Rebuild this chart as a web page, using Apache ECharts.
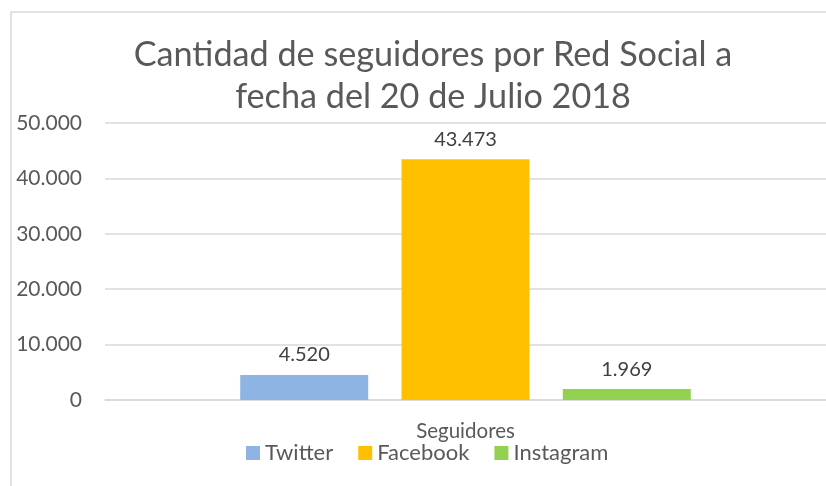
<!DOCTYPE html>
<html>
<head>
<meta charset="utf-8">
<script src="https://cdn.jsdelivr.net/npm/echarts@6/dist/echarts.min.js"></script>
<style>html,body{margin:0;padding:0;background:#fff;}#c{width:826px;height:486px;}</style>
</head>
<body>
<div id="c"></div>
<script>
var categories = ['Seguidores'];
var seriesNames = ['Twitter', 'Facebook', 'Instagram'];
var twitter = [4520];
var facebook = [43473];
var instagram = [1969];
var yTicks = [0, 10000, 20000, 30000, 40000, 50000];
var colors = ['#8eb4e3', '#ffc000', '#92d050'];

function fmt(v) { return String(v).replace(/\B(?=(\d{3})+(?!\d))/g, '.'); }

var FONT = 'Lato';
var chart = echarts.init(document.getElementById('c'), null, {renderer: 'canvas'});
var data = [twitter, facebook, instagram];
var option = {
  animation: false,
  backgroundColor: '#fff',
  graphic: [
    {type: 'rect', shape: {x: 11, y: 12, width: 840, height: 500}, style: {fill: 'none', stroke: '#d9d9d9', lineWidth: 1.5}, silent: true},
    {type: 'text', x: 433, y: 55, style: {text: 'Cantidad de seguidores por Red Social a', fontFamily: FONT, fontSize: 34.2, fill: '#595959', align: 'center', verticalAlign: 'middle'}},
    {type: 'text', x: 433, y: 97, style: {text: 'fecha del 20 de Julio 2018', fontFamily: FONT, fontSize: 34.2, fill: '#595959', align: 'center', verticalAlign: 'middle'}}
  ],
  legend: {
    data: seriesNames, bottom: 17, left: 241, itemWidth: 14, itemHeight: 14, itemGap: 25,
    icon: 'rect',
    textStyle: {fontFamily: FONT, fontSize: 22, color: '#595959'}
  },
  grid: {left: 105, width: 726, top: 123, bottom: 86, containLabel: false},
  xAxis: {
    type: 'category', data: categories,
    axisLine: {lineStyle: {color: '#d9d9d9', width: 1.5}},
    axisTick: {show: false},
    axisLabel: {fontFamily: FONT, fontSize: 20.5, color: '#595959', margin: 21}
  },
  yAxis: {
    type: 'value', min: 0, max: 50000, interval: 10000,
    axisLine: {show: false}, axisTick: {show: false},
    splitLine: {lineStyle: {color: '#d9d9d9', width: 1.5}},
    axisLabel: {fontFamily: FONT, fontSize: 21, color: '#595959', margin: 23, formatter: function (v) { return fmt(v); }}
  },
  series: seriesNames.map(function (n, i) {
    return {
      name: n, type: 'bar', data: data[i], barWidth: 128, barGap: '26%',
      itemStyle: {color: colors[i]},
      label: {show: true, position: 'top', distance: 10, fontFamily: FONT, fontSize: 20, color: '#404040', formatter: function (p) { return fmt(p.value); }}
    };
  })
};
chart.setOption(option);
</script>
</body>
</html>
